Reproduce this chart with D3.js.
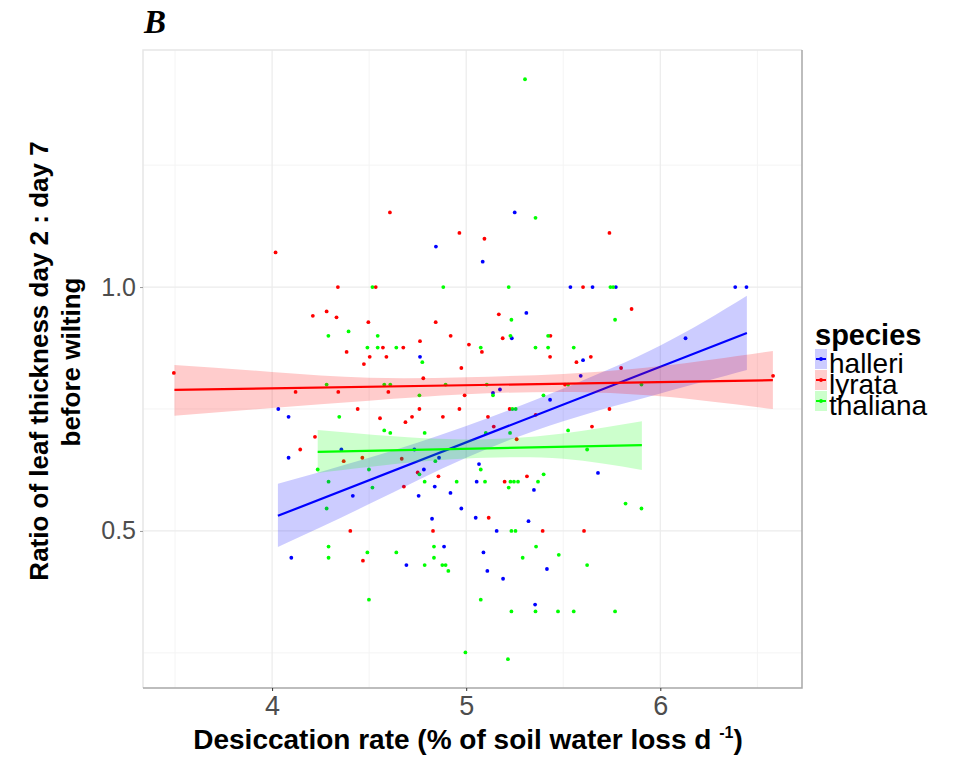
<!DOCTYPE html>
<html>
<head>
<meta charset="utf-8">
<script src="https://cdn.jsdelivr.net/npm/d3@7"></script>
<style>
  body { margin: 0; background: #fff; }
  text { font-family: "Liberation Sans", Arial, sans-serif; }
</style>
</head>
<body>
<div id="chart"></div>
<script>
// species order and colours
const species = ["halleri", "lyrata", "thaliana"];
const colors = ["#0000ff", "#ff0000", "#00ff00"];

// [desiccation rate, ratio]
const halleri = [
  [4.844, 1.083], [4.762, 0.857], [5.250, 1.153], [5.085, 1.052], [5.537, 1.0], [5.651, 1.0],
  [5.771, 1.0], [6.386, 1.0], [6.444, 1.0], [5.310, 0.947], [5.235, 0.895], [5.602, 0.850],
  [6.130, 0.895], [4.032, 0.750], [4.085, 0.734], [4.357, 0.667], [4.733, 0.667], [4.085, 0.650],
  [4.860, 0.650], [4.782, 0.626], [4.838, 0.591], [4.416, 0.572], [4.755, 0.572], [4.919, 0.578],
  [4.975, 0.546], [4.824, 0.525], [4.886, 0.468], [4.099, 0.445], [4.692, 0.430], [5.590, 0.818],
  [5.138, 0.783], [5.174, 0.790], [5.432, 0.769], [5.066, 0.637], [5.679, 0.619], [5.054, 0.601],
  [5.349, 0.584], [5.049, 0.527], [5.321, 0.520], [5.157, 0.500], [5.089, 0.456], [5.109, 0.418],
  [5.416, 0.422], [5.190, 0.402], [5.355, 0.349]
];
const lyrata = [
  [4.607, 1.153], [4.965, 1.111], [4.018, 1.071], [4.339, 1.0], [4.534, 1.0], [4.210, 0.941],
  [4.281, 0.950], [4.332, 0.938], [4.496, 0.928], [4.843, 0.928], [4.920, 0.900], [4.762, 0.889],
  [5.014, 0.882], [4.571, 0.876], [4.676, 0.876], [4.384, 0.867], [4.503, 0.857], [4.589, 0.857],
  [4.473, 0.842], [4.975, 0.834], [5.094, 1.099], [5.602, 1.0], [5.738, 1.111], [5.852, 0.955],
  [5.168, 0.944], [5.188, 0.895], [5.434, 0.900], [5.081, 0.867], [5.432, 0.857], [5.642, 0.857],
  [5.568, 0.846], [5.798, 0.834], [3.494, 0.824], [4.779, 0.813], [4.121, 0.785], [4.341, 0.785],
  [4.599, 0.785], [4.992, 0.778], [4.441, 0.750], [4.759, 0.750], [4.965, 0.750], [4.556, 0.731],
  [4.721, 0.734], [4.880, 0.734], [4.687, 0.723], [4.221, 0.693], [4.145, 0.667], [4.369, 0.643],
  [4.465, 0.650], [4.668, 0.648], [4.750, 0.620], [4.857, 0.612], [4.679, 0.591], [4.403, 0.500],
  [4.829, 0.500], [4.468, 0.439], [6.581, 0.818], [5.509, 0.800], [5.224, 0.750], [5.738, 0.750],
  [5.112, 0.734], [5.358, 0.738], [5.142, 0.714], [5.648, 0.714], [5.260, 0.688], [5.313, 0.612],
  [5.198, 0.601], [5.116, 0.527], [5.394, 0.500], [5.607, 0.500]
];
const thaliana = [
  [4.517, 1.0], [4.882, 1.0], [4.290, 0.900], [4.394, 0.909], [4.544, 0.900], [4.491, 0.876],
  [4.544, 0.876], [4.640, 0.876], [4.774, 0.846], [5.303, 1.426], [5.357, 1.142], [5.219, 1.0],
  [5.743, 1.0], [5.757, 1.0], [5.233, 0.933], [5.767, 0.933], [5.228, 0.900], [5.422, 0.900],
  [5.075, 0.876], [5.357, 0.876], [5.422, 0.876], [5.554, 0.876], [4.281, 0.800], [4.578, 0.800],
  [4.609, 0.800], [4.894, 0.800], [4.759, 0.778], [4.346, 0.734], [4.578, 0.706], [4.609, 0.701],
  [4.786, 0.701], [4.841, 0.643], [4.235, 0.626], [4.499, 0.626], [4.759, 0.616], [4.291, 0.601],
  [4.786, 0.601], [4.951, 0.601], [4.517, 0.589], [4.281, 0.546], [4.291, 0.468], [4.834, 0.468],
  [4.491, 0.456], [4.640, 0.456], [4.291, 0.445], [4.834, 0.445], [4.786, 0.430], [4.877, 0.430],
  [4.894, 0.430], [4.908, 0.418], [4.499, 0.359], [4.996, 0.251], [5.106, 0.800], [5.525, 0.800],
  [5.903, 0.800], [5.138, 0.778], [5.398, 0.778], [5.238, 0.750], [5.255, 0.750], [5.525, 0.706],
  [5.101, 0.701], [5.226, 0.701], [5.623, 0.667], [5.075, 0.626], [5.399, 0.616], [5.097, 0.601],
  [5.228, 0.601], [5.246, 0.601], [5.267, 0.601], [5.370, 0.601], [5.219, 0.589], [5.821, 0.556],
  [5.903, 0.546], [5.233, 0.500], [5.254, 0.500], [5.360, 0.468], [5.291, 0.445], [5.477, 0.451],
  [5.623, 0.430], [5.075, 0.359], [5.233, 0.335], [5.357, 0.335], [5.473, 0.335], [5.554, 0.335],
  [5.767, 0.335], [5.215, 0.237]
];

// fitted lines: [x, y] at both ends
const fitHalleri = [[4.03, 0.531], [6.446, 0.906]];
const fitLyrata = [[3.497, 0.789], [6.58, 0.809]];
const fitThaliana = [[4.235, 0.662], [5.905, 0.676]];

// confidence bands: [x, lower, upper]
const bandHalleri = [[4.03, 0.467, 0.597], [4.5, 0.555, 0.650], [5.0, 0.650, 0.715], [5.5, 0.725, 0.792], [6.0, 0.782, 0.880], [6.446, 0.830, 0.982]];
const bandLyrata = [[3.497, 0.736, 0.840], [4.0, 0.752, 0.826], [4.5, 0.767, 0.814], [5.0, 0.780, 0.815], [5.5, 0.785, 0.822], [6.0, 0.776, 0.838], [6.58, 0.750, 0.869]];
const bandThaliana = [[4.235, 0.619, 0.707], [4.7, 0.640, 0.692], [5.1, 0.650, 0.688], [5.5, 0.648, 0.700], [5.905, 0.625, 0.725]];

const xTicks = [4, 5, 6];
const xMinor = [3.5, 4.5, 5.5, 6.5];
const yTicks = [0.5, 1.0];
const yMinor = [0.25, 0.75, 1.25];

const points = [halleri, lyrata, thaliana];
const fits = [fitHalleri, fitLyrata, fitThaliana];
const bands = [bandHalleri, bandLyrata, bandThaliana];

const svg = d3.select("#chart").append("svg")
  .attr("width", 954)
  .attr("height", 763);

const panel = { left: 143, right: 802, top: 50, bottom: 688 };

const x = d3.scaleLinear().domain([3.335, 6.73]).range([panel.left, panel.right]);
const y = d3.scaleLinear().domain([0.178, 1.486]).range([panel.bottom, panel.top]);

// grid
svg.selectAll(".xminor").data(xMinor).enter().append("line")
  .attr("x1", d => x(d)).attr("x2", d => x(d))
  .attr("y1", panel.top).attr("y2", panel.bottom)
  .attr("stroke", "#f4f4f4").attr("stroke-width", 1);
svg.selectAll(".yminor").data(yMinor).enter().append("line")
  .attr("y1", d => y(d)).attr("y2", d => y(d))
  .attr("x1", panel.left).attr("x2", panel.right)
  .attr("stroke", "#f4f4f4").attr("stroke-width", 1);
svg.selectAll(".xmajor").data(xTicks).enter().append("line")
  .attr("x1", d => x(d)).attr("x2", d => x(d))
  .attr("y1", panel.top).attr("y2", panel.bottom)
  .attr("stroke", "#ebebeb").attr("stroke-width", 1.2);
svg.selectAll(".ymajor").data(yTicks).enter().append("line")
  .attr("y1", d => y(d)).attr("y2", d => y(d))
  .attr("x1", panel.left).attr("x2", panel.right)
  .attr("stroke", "#ebebeb").attr("stroke-width", 1.2);

// panel border: light top/left, darker bottom/right
svg.append("path")
  .attr("d", `M${panel.left},${panel.bottom} L${panel.left},${panel.top} L${panel.right},${panel.top}`)
  .attr("fill", "none").attr("stroke", "#e6e6e6").attr("stroke-width", 1.5);
svg.append("path")
  .attr("d", `M${panel.left},${panel.bottom} L${panel.right},${panel.bottom} L${panel.right},${panel.top}`)
  .attr("fill", "none").attr("stroke", "#a8a8a8").attr("stroke-width", 1.5);

// points
points.forEach((pts, i) => {
  svg.append("g").selectAll("circle").data(pts).enter().append("circle")
    .attr("cx", d => x(d[0]))
    .attr("cy", d => y(d[1]))
    .attr("r", 1.9)
    .attr("fill", colors[i]);
});

// smooths
const area = d3.area()
  .x(d => x(d[0])).y0(d => y(d[1])).y1(d => y(d[2]))
  .curve(d3.curveNatural);
const line = d3.line().x(d => x(d[0])).y(d => y(d[1]));

species.forEach((s, i) => {
  svg.append("path").datum(bands[i])
    .attr("d", area)
    .attr("fill", colors[i]).attr("fill-opacity", 0.2);
  svg.append("path").datum(fits[i])
    .attr("d", line)
    .attr("fill", "none").attr("stroke", colors[i]).attr("stroke-width", 2.2);
});

// axes
const xAxis = svg.append("g")
  .attr("transform", `translate(0,${panel.bottom})`)
  .call(d3.axisBottom(x).tickValues(xTicks).tickSize(3).tickPadding(3).tickFormat(d3.format("d")));
xAxis.select(".domain").remove();
xAxis.selectAll("line").attr("stroke", "#333");
xAxis.selectAll("text")
  .attr("fill", "#4d4d4d")
  .style("font-size", "27px")
  .style("font-family", "Liberation Sans, Arial, sans-serif")
  .attr("dy", "0.78em");

const yAxis = svg.append("g")
  .attr("transform", `translate(${panel.left},0)`)
  .call(d3.axisLeft(y).tickValues(yTicks).tickSize(3).tickPadding(4).tickFormat(d3.format(".1f")));
yAxis.select(".domain").remove();
yAxis.selectAll("line").attr("stroke", "#999");
yAxis.selectAll("text")
  .attr("fill", "#4d4d4d")
  .style("font-size", "25px")
  .style("font-family", "Liberation Sans, Arial, sans-serif");

// axis titles
const xTitle = svg.append("text")
  .attr("x", 468).attr("y", 749)
  .attr("text-anchor", "middle")
  .style("font-size", "28px").style("font-weight", "bold");
xTitle.append("tspan").text("Desiccation rate (% of soil water loss d ");
xTitle.append("tspan").attr("dy", -11).style("font-size", "16px").text("-1");
xTitle.append("tspan").attr("dy", 11).text(")");

svg.append("text")
  .attr("transform", "translate(48,361) rotate(-90)")
  .attr("text-anchor", "middle")
  .style("font-size", "26px").style("font-weight", "bold")
  .text("Ratio of leaf thickness day 2 : day 7");
svg.append("text")
  .attr("transform", "translate(80,362) rotate(-90)")
  .attr("text-anchor", "middle")
  .style("font-size", "26px").style("font-weight", "bold")
  .text("before wilting");

// panel tag
svg.append("text")
  .attr("x", 144).attr("y", 33)
  .style("font-family", "Liberation Serif, Times New Roman, serif")
  .style("font-size", "33px").style("font-weight", "bold").style("font-style", "italic")
  .text("B");

// legend
const legend = svg.append("g").attr("transform", "translate(815,0)");
legend.append("text")
  .attr("x", 0).attr("y", 345)
  .style("font-size", "29px").style("font-weight", "bold")
  .text("species");
const keyTop = [349, 370, 391];
species.forEach((s, i) => {
  const k = legend.append("g").attr("transform", `translate(0,${keyTop[i]})`);
  k.append("rect").attr("x", 0).attr("y", 0).attr("width", 12).attr("height", 20)
    .attr("fill", colors[i]).attr("fill-opacity", 0.2);
  k.append("line").attr("x1", 1).attr("x2", 11).attr("y1", 10).attr("y2", 10)
    .attr("stroke", colors[i]).attr("stroke-width", 2);
  k.append("circle").attr("cx", 6).attr("cy", 10).attr("r", 1.9).attr("fill", colors[i]);
  legend.append("text")
    .attr("x", 14).attr("y", keyTop[i] + 24)
    .style("font-size", "28px")
    .text(s);
});
</script>
</body>
</html>
